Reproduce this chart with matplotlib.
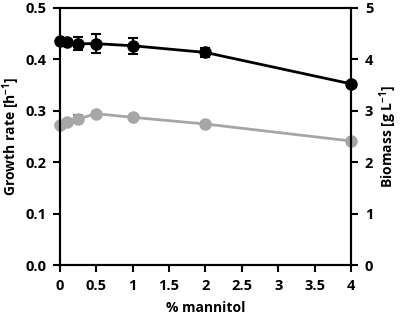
import matplotlib
matplotlib.use("Agg")
import matplotlib.pyplot as plt

plt.rcParams["font.family"] = ["Open Sans", "DejaVu Sans"]
plt.rcParams["font.weight"] = "bold"
plt.rcParams["mathtext.fontset"] = "custom"
plt.rcParams["mathtext.rm"] = "Open Sans:bold"
plt.rcParams["mathtext.it"] = "Open Sans:bold"
plt.rcParams["mathtext.bf"] = "Open Sans:bold"

mannitol = [0, 0.1, 0.25, 0.5, 1, 2, 4]
growth = [0.435, 0.433, 0.430, 0.430, 0.426, 0.413, 0.352]
growth_err = [0.004, 0.003, 0.013, 0.018, 0.016, 0.009, 0.004]
biomass = [2.72, 2.78, 2.84, 2.94, 2.87, 2.74, 2.41]
biomass_err = [0.03, 0.03, 0.08, 0.03, 0.03, 0.04, 0.03]

GRAY = "#a6a6a6"

fig = plt.figure(figsize=(4.01, 3.19), dpi=100)
ax = fig.add_axes([0.1496, 0.169, 0.7257, 0.807])
ax2 = ax.twinx()

gl = ax.errorbar(mannitol, growth, yerr=growth_err, fmt="o-", color="black", lw=2,
                 ms=8, capsize=3.5, elinewidth=1.5, capthick=1.5, zorder=3)
bl = ax2.errorbar(mannitol, biomass, yerr=biomass_err, fmt="o-", color=GRAY, lw=2,
                  ms=8, capsize=3.5, elinewidth=1.5, capthick=1.5, ecolor="#777777")
for art in list(gl.lines[:1]) + list(bl.lines[:1]):
    art.set_clip_on(False)
ax.set_zorder(ax2.get_zorder() + 1)
ax.patch.set_visible(False)

ax.set_xlim(0, 4)
ax.set_ylim(0, 0.5)
ax2.set_ylim(0, 5)
ax.set_xticks([0, 0.5, 1, 1.5, 2, 2.5, 3, 3.5, 4])
ax.set_xticklabels(["0", "0.5", "1", "1.5", "2", "2.5", "3", "3.5", "4"])
ax.set_yticks([0, 0.1, 0.2, 0.3, 0.4, 0.5])
ax.set_yticklabels(["0.0", "0.1", "0.2", "0.3", "0.4", "0.5"])
ax2.set_yticks([0, 1, 2, 3, 4, 5])

for a in (ax, ax2):
    for s in a.spines.values():
        s.set_linewidth(1.5)
    a.tick_params(width=1.5, length=5, labelsize=10.5, pad=5)

ax.set_xlabel("% mannitol", fontsize=10, fontweight="bold", labelpad=6)
ax.set_ylabel("Growth rate [h$^{-1}$]", fontsize=10, fontweight="bold", labelpad=2)
ax2.set_ylabel("Biomass [g L$^{-1}$]", fontsize=10, fontweight="bold", labelpad=3)

fig.savefig("out.png", dpi=100)
